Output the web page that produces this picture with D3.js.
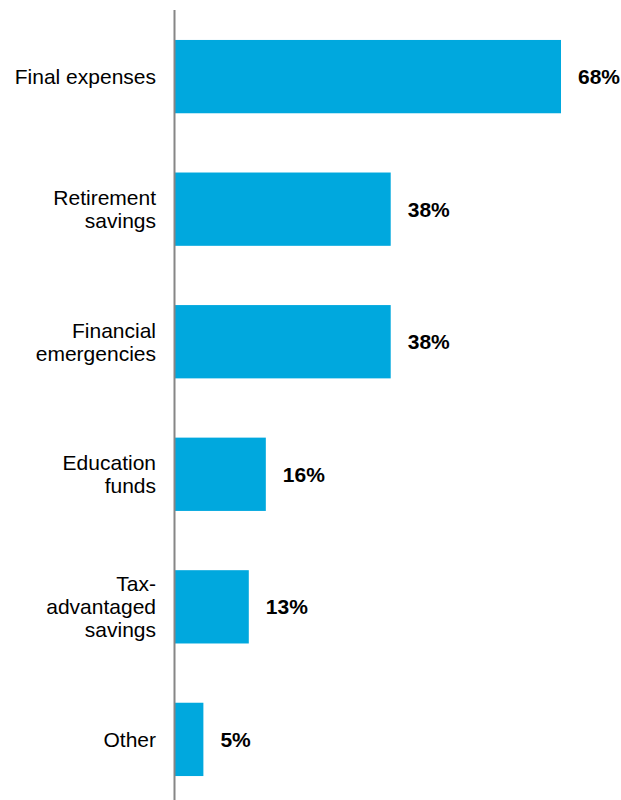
<!DOCTYPE html>
<html>
<head>
<meta charset="utf-8">
<script src="https://cdn.jsdelivr.net/npm/d3@7"></script>
<style>
  html, body { margin: 0; padding: 0; background: #ffffff; }
  svg { display: block; }
  text { font-family: "Liberation Sans", Arial, sans-serif; }
</style>
</head>
<body>
<div id="chart"></div>
<script>
// Uses of funds, share of respondents (%)
const categories = [
  ["Final expenses"],
  ["Retirement", "savings"],
  ["Financial", "emergencies"],
  ["Education", "funds"],
  ["Tax-", "advantaged", "savings"],
  ["Other"]
];
const values = [68, 38, 38, 16, 13, 5];
const valueLabels = ["68%", "38%", "38%", "16%", "13%", "5%"];

const width = 621, height = 800;
const x0 = 175;
const barColor = "#00A8DE";

const svg = d3.select("#chart").append("svg")
  .attr("width", width)
  .attr("height", height);

const keys = categories.map(c => c.join(" "));

const y = d3.scaleBand()
  .domain(keys)
  .range([10, 806])
  .paddingInner(0.447)
  .paddingOuter(0.226);

const x = d3.scaleLinear()
  .domain([0, 68])
  .range([x0, 561]);

// bars
svg.selectAll("rect.bar")
  .data(values)
  .join("rect")
  .attr("class", "bar")
  .attr("x", x(0))
  .attr("y", (d, i) => y(keys[i]))
  .attr("width", d => x(d) - x(0))
  .attr("height", y.bandwidth())
  .attr("fill", barColor);

// vertical axis line
svg.append("line")
  .attr("x1", x0 - 0.5).attr("x2", x0 - 0.5)
  .attr("y1", y.range()[0]).attr("y2", y.range()[1])
  .attr("stroke", "#868686")
  .attr("stroke-width", 2);

// category labels (multi-line, right aligned)
const fs = 21, lh = 23;
const cat = svg.selectAll("text.cat")
  .data(categories)
  .join("text")
  .attr("class", "cat")
  .attr("text-anchor", "end")
  .attr("font-size", fs)
  .attr("fill", "#000");
cat.each(function(lines, i) {
  const cy = y(keys[i]) + y.bandwidth() / 2;
  const top = cy - (lines.length - 1) * lh / 2 + fs * 0.35;
  d3.select(this).selectAll("tspan")
    .data(lines)
    .join("tspan")
    .attr("x", 156)
    .attr("y", (l, j) => top + j * lh)
    .text(l => l);
});

// value labels
svg.selectAll("text.val")
  .data(values)
  .join("text")
  .attr("class", "val")
  .attr("x", d => x(d) + 17)
  .attr("y", (d, i) => y(keys[i]) + y.bandwidth() / 2 + fs * 0.35)
  .attr("font-size", fs)
  .attr("font-weight", "bold")
  .attr("fill", "#000")
  .text((d, i) => valueLabels[i]);
</script>
</body>
</html>
